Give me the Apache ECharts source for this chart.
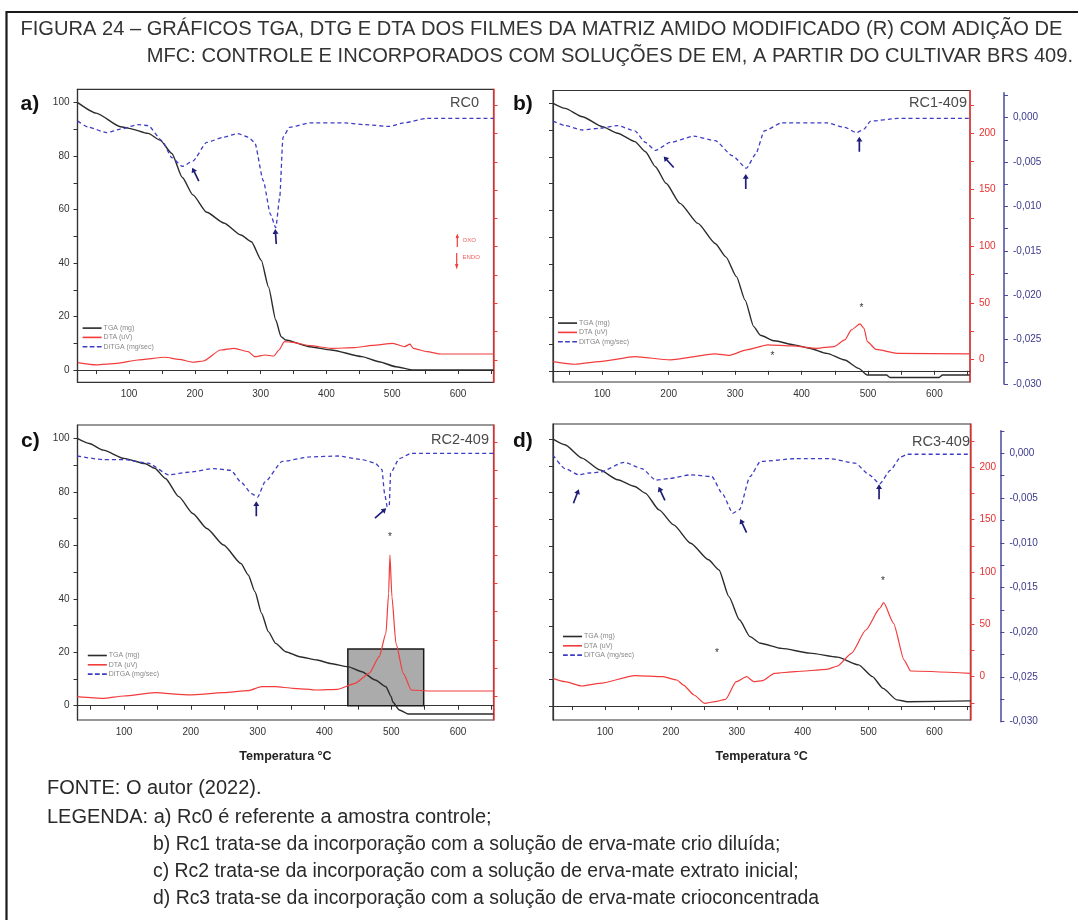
<!DOCTYPE html>
<html><head><meta charset="utf-8">
<script src="https://cdn.jsdelivr.net/npm/echarts/dist/echarts.min.js"></script>
<style>html,body{margin:0;padding:0;background:#fff}#c{width:1078px;height:920px}</style>
</head><body><div id="c"></div>
<script>
// ---------- data ----------
const seriesNames = ['TGA (mg)', 'DTA (uV)', 'DiTGA (mg/sec)'];
const tempLabels = [100, 200, 300, 400, 500, 600];
const tempTicks = [50, 100, 150, 200, 250, 300, 350, 400, 450, 500, 550, 600, 650];
const tgaLabels = [0, 20, 40, 60, 80, 100];
const tgaTicks = [0, 10, 20, 30, 40, 50, 60, 70, 80, 90, 100];
const dtaLabels = [0, 50, 100, 150, 200];
const dtaTicks = [-25, 0, 25, 50, 75, 100, 125, 150, 175, 200, 225];
const dtgLabels = [-0.030, -0.025, -0.020, -0.015, -0.010, -0.005, 0.000];
const dtgTicks = [-0.030, -0.0275, -0.025, -0.0225, -0.020, -0.0175, -0.015, -0.0125, -0.010, -0.0075, -0.005, -0.0025, 0.000, 0.0025];

// Panel a) RC0
const tgaA = [[22,100],[50,96.1],[87,91],[100,90.4],[129,88.5],[147,86],[165,81],[181,72],[197,65.5],[218,59],[244,55],[270,50.5],[286,48],[301,41],[312,31],[323,18.7],[331,12.5],[338,11.2],[375,8.7],[407,7.5],[454,5],[480,3.1],[506,1.2],[532,0],[600,0],[654,0]];
const dtaA = [[22,-2.4],[50,-4.4],[82,-3],[113,0],[155,2.4],[176,0.6],[197,-2],[213,-0.9],[239,8.8],[260,10.3],[281,7.4],[291,2.9],[307,4.4],[320,3.5],[328,8.8],[336,16.2],[349,15.6],[375,12.6],[407,10.3],[443,10.9],[470,12.9],[501,14.7],[519,11.8],[527,14],[532,10.3],[553,7.4],[574,5.3],[654,5.3]];
const dtgA = [[22,-0.0004],[39,-0.0011],[66,-0.0017],[87,-0.0013],[113,-0.0008],[129,-0.0009],[150,-0.0026],[165,-0.0045],[181,-0.0055],[197,-0.0049],[218,-0.0028],[244,-0.0022],[265,-0.0018],[281,-0.0022],[291,-0.0028],[304,-0.0071],[315,-0.0109],[323,-0.0124],[329,-0.009],[334,-0.0022],[344,-0.0011],[375,-0.0006],[428,-0.0006],[459,-0.0008],[496,-0.001],[517,-0.0006],[553,-0.0001],[654,-0.0001]];
const arrowsA = [[201,-0.0064,26],[323,-0.0134,4]];
const starsA = [];

// Panel b) RC1-409
const tgaB = [[26,100],[44,98.1],[70,95],[100,91.3],[123,88.8],[149,85.7],[165,81.9],[180,76.3],[196,70.1],[217,62.6],[244,55.1],[270,47.6],[286,42.6],[302,35.2],[315,26.4],[328,16.5],[338,13.3],[359,11.2],[391,9.6],[412,8.4],[438,6.5],[465,4],[486,0.9],[499,-1.6],[528,-1.6],[533,-2.5],[607,-2.5],[612,-1.6],[653,-1.6]];
const dtaB = [[26,-2],[59,-4.4],[96,-2],[149,2.4],[202,-0.6],[270,4.7],[291,3.5],[317,8.3],[349,12.7],[386,11.8],[423,9.7],[449,11.2],[465,17.1],[475,26],[488,31.3],[494,27.4],[499,15.6],[512,8.8],[544,5.3],[653,4.7]];
const dtgB = [[26,-0.0004],[44,-0.0009],[70,-0.0014],[96,-0.0012],[123,-0.0009],[149,-0.0015],[165,-0.0028],[180,-0.0037],[202,-0.0028],[238,-0.0021],[270,-0.0026],[296,-0.0043],[317,-0.0057],[331,-0.0041],[344,-0.0015],[370,-0.0006],[438,-0.0006],[465,-0.0011],[483,-0.0017],[494,-0.0013],[504,-0.0004],[544,-0.0001],[653,-0.0001]];
const arrowsB = [[200,-0.005,42],[316,-0.0072,0],[487,-0.003,0]];
const starsB = [[490,45],[356,3]];

// Panel c) RC2-409
const tgaC = [[30,100],[48,98.1],[69,95.6],[100,92.5],[131,90.6],[146,88.8],[162,85],[182,78.2],[203,71.9],[224,66.3],[249,60.1],[275,53.2],[286,48.9],[296,42.6],[306,34.5],[316,27.7],[327,23.3],[342,20.2],[363,18.3],[389,17.1],[409,15.8],[435,14.6],[456,12.7],[476,9.6],[492,7.1],[500,3.4],[502,1.5],[512,-1.6],[525,-3.1],[653,-3.1]];
const dtaC = [[30,0],[69,-1.5],[100,0.6],[146,3.5],[198,1.5],[249,3.5],[286,5.3],[306,8.8],[327,8.8],[353,7.4],[389,5.9],[420,6.5],[446,11.8],[467,20.6],[482,35.3],[492,55.9],[496,91],[498,125],[501,88],[507,47],[518,20.6],[530,5.9],[559,5],[653,5]];
const dtgC = [[30,-0.0003],[69,-0.0007],[100,-0.0007],[136,-0.0011],[167,-0.0024],[198,-0.0021],[234,-0.0017],[260,-0.0019],[275,-0.0032],[291,-0.0045],[300,-0.0049],[311,-0.0032],[337,-0.0009],[378,-0.0004],[420,-0.0003],[456,-0.0007],[476,-0.0011],[486,-0.0018],[490,-0.0045],[494,-0.006],[497,-0.0058],[499,-0.0022],[512,-0.0006],[530,0],[653,0]];
const arrowsC = [[298,-0.0062,0],[484,-0.0067,-49]];
const starsC = [[498,141]];
const boxC = [[435, 548.5, 0, 21.2]];

// Panel d) RC3-409
const tgaD = [[21,100],[39,97.9],[65,92.9],[92,88.5],[119,84.8],[145,82.3],[161,79.8],[182,73.5],[204,67.9],[230,61],[257,54.8],[273,51],[288,41],[304,32.3],[320,26],[336,23.5],[368,21.6],[411,19.8],[453,18.3],[485,15.4],[506,11],[522,6.6],[543,2.3],[559,1.6],[655,1.9]];
const dtaD = [[21,-1.6],[39,-4.8],[65,-8.9],[92,-6.4],[145,1],[188,0],[209,-3.2],[219,-8],[235,-17.5],[251,-25.5],[267,-23.9],[283,-21.7],[299,-4.8],[315,0],[326,-4.8],[339,-3.8],[357,3.2],[389,4.8],[437,7],[453,10.2],[474,22.3],[496,44.6],[517,65.3],[523,70.7],[538,51],[554,15.9],[564,5.4],[655,3.2]];
const dtgD = [[21,-0.0002],[39,-0.0017],[60,-0.0024],[76,-0.0022],[92,-0.0021],[129,-0.001],[156,-0.0017],[177,-0.003],[198,-0.0028],[230,-0.0024],[262,-0.0026],[278,-0.0045],[294,-0.0067],[304,-0.0063],[320,-0.0026],[336,-0.0009],[389,-0.0006],[442,-0.0006],[480,-0.0011],[501,-0.0024],[517,-0.0034],[533,-0.0019],[549,-0.0004],[559,-0.0001],[655,-0.0001]];
const arrowsD = [[56,-0.0048,-21],[186,-0.0045,25],[310,-0.0081,25],[516,-0.0043,0]];
const starsD = [[270,22],[522,91]];

const panelTitles = ['RC0', 'RC1-409', 'RC2-409', 'RC3-409'];
const panelLetters = ['a)', 'b)', 'c)', 'd)'];
const titleLines = ['FIGURA 24 – GRÁFICOS TGA, DTG E DTA DOS FILMES DA MATRIZ AMIDO MODIFICADO (R) COM ADIÇÃO DE',
  'MFC: CONTROLE E INCORPORADOS COM SOLUÇÕES DE EM, A PARTIR DO CULTIVAR BRS 409.'];
const footLines = ['FONTE: O autor (2022).',
  'LEGENDA: a) Rc0 é referente a amostra controle;',
  'b) Rc1 trata-se da incorporação com a solução de erva-mate crio diluída;',
  'c) Rc2 trata-se da incorporação com a solução de erva-mate extrato inicial;',
  'd) Rc3 trata-se da incorporação com a solução de erva-mate crioconcentrada'];
const xName = 'Temperatura °C';

// ---------- layout ----------
const FONT = "'Liberation Sans', Arial, Helvetica, sans-serif";
const C_TGA = '#2b2b2b', C_DTA = '#f23c3c', C_DTG = '#3d3dc4', C_BLUEAX = '#4a4a9c', C_ARROW = '#1e1e78';
const panels = [
  {grid:{left:77.5, top:89.3, width:416, height:293}, blue:{top:92.7, height:291.3, max:0.0028, show:false, offset:34},
   x:[21.6,654], tgaR:[-4.6,105], dtaR:[-19.7,239], tgaLab:true, dtaLab:false, xname:false,
   tga:tgaA, dta:dtaA, dtg:dtgA, arrows:arrowsA, stars:starsA, legend:{left:82.6, top:324.6},
   title:{x:479, y:103}, letter:{x:20.5, y:104}},
  {grid:{left:553, top:90.5, width:417, height:291.5}, blue:{top:92.7, height:291.3, max:0.0028, show:true, offset:34},
   x:[25.8,653.6], tgaR:[-4.2,104.8], dtaR:[-20.1,237.8], tgaLab:false, dtaLab:true, xname:false,
   tga:tgaB, dta:dtaB, dtg:dtgB, arrows:arrowsB, stars:starsB, legend:{left:558, top:319.6},
   title:{x:967, y:103}, letter:{x:513, y:104}},
  {grid:{left:77.5, top:425, width:416, height:295}, blue:{top:430.7, height:291, max:0.00253, show:false, offset:30},
   x:[30.4,653], tgaR:[-5.35,105], dtaR:[-20.6,239.8], tgaLab:true, dtaLab:false, xname:true,
   tga:tgaC, dta:dtaC, dtg:dtgC, arrows:arrowsC, stars:starsC, box:boxC, legend:{left:87.8, top:652},
   title:{x:489, y:440}, letter:{x:21, y:441}},
  {grid:{left:553, top:424, width:417.4, height:296}, blue:{top:430.7, height:291, max:0.00253, show:true, offset:30},
   x:[20.9,654.7], tgaR:[-5.25,105.7], dtaR:[-41.4,241.4], tgaLab:false, dtaLab:true, xname:true,
   tga:tgaD, dta:dtaD, dtg:dtgD, arrows:arrowsD, stars:starsD, legend:{left:563, top:633},
   title:{x:970, y:442}, letter:{x:513, y:441}}
];

const inRange = (arr, r) => arr.filter(v => v >= r[0] - 1e-9 && v <= r[1] + 1e-9);
const arrowPath = 'path://M5,0L10,7L6.4,7L6.4,22L3.6,22L3.6,7L0,7Z';
const solidIcon = 'path://M0,0H20V1.7H0Z';
const dashIcon = 'path://M0,0H5V1.7H0Z M7.5,0H12.5V1.7H7.5Z M15,0H20V1.7H15Z';
const legendIcons = [solidIcon, solidIcon, dashIcon];

const grids = [], xAxes = [], yAxes = [], series = [], legends = [], graphics = [];

panels.forEach((p, i) => {
  grids.push({left:p.grid.left, top:p.grid.top, width:p.grid.width, height:p.grid.height,
    show:true, borderColor:'#333', borderWidth:1.2, backgroundColor:'transparent', containLabel:false});
  grids.push({left:p.grid.left, top:p.blue.top, width:p.grid.width, height:p.blue.height, show:false});

  xAxes.push({type:'value', gridIndex:2*i, min:p.x[0], max:p.x[1],
    axisLine:{show:true, lineStyle:{color:'#333', width:1.2}},
    axisTick:{show:true, length:4, lineStyle:{color:'#333'}, customValues: inRange(tempTicks, p.x)},
    axisLabel:{show:true, fontSize:10, color:'#333', fontFamily:FONT, margin:7, customValues: inRange(tempLabels, p.x)},
    splitLine:{show:false},
    name: p.xname ? xName : '', nameLocation:'middle', nameGap:30,
    nameTextStyle:{fontSize:12.5, fontWeight:'bold', color:'#222', fontFamily:FONT}});
  xAxes.push({type:'value', gridIndex:2*i+1, min:p.x[0], max:p.x[1], show:false});

  yAxes.push({type:'value', gridIndex:2*i, position:'left', min:p.tgaR[0], max:p.tgaR[1],
    axisLine:{show:true, lineStyle:{color:'#333', width:1.2}},
    axisTick:{show:true, length:4, lineStyle:{color:'#333'}, customValues: inRange(tgaTicks, p.tgaR)},
    axisLabel:{show:p.tgaLab, fontSize:10, color:'#333', fontFamily:FONT, margin:8, customValues: inRange(tgaLabels, p.tgaR)},
    splitLine:{show:false}});
  yAxes.push({type:'value', gridIndex:2*i, position:'right', min:p.dtaR[0], max:p.dtaR[1],
    axisLine:{show:true, lineStyle:{color:C_DTA, width:1.5}},
    axisTick:{show:true, length:4, lineStyle:{color:C_DTA}, customValues: inRange(dtaTicks, p.dtaR)},
    axisLabel:{show:p.dtaLab, fontSize:10, color:'#e83030', fontFamily:FONT, margin:9, customValues: inRange(dtaLabels, p.dtaR)},
    splitLine:{show:false}});
  yAxes.push({type:'value', gridIndex:2*i+1, position:'right', offset:p.blue.offset, min:-0.03, max:p.blue.max,
    show:p.blue.show,
    axisLine:{show:true, lineStyle:{color:C_BLUEAX, width:1.5}},
    axisTick:{show:true, length:4, lineStyle:{color:C_BLUEAX}, customValues: inRange(dtgTicks, [-0.03, p.blue.max])},
    axisLabel:{show:true, fontSize:10, color:'#3a3a8c', fontFamily:FONT, margin:9,
      customValues: dtgLabels, formatter: v => v.toFixed(3).replace('.', ',')},
    splitLine:{show:false}});

  if (p.box) {
    series.push({type:'custom', xAxisIndex:2*i, yAxisIndex:3*i, z:1, data:p.box,
      encode:{x:[0,1], y:[2,3]},
      renderItem:(params, api) => {
        const a = api.coord([api.value(0), api.value(3)]);
        const b = api.coord([api.value(1), api.value(2)]);
        return {type:'rect', shape:{x:a[0], y:a[1], width:b[0]-a[0], height:b[1]-a[1]},
          style:{fill:'#ababab', stroke:'#1a1a1a', lineWidth:1.5}};
      }});
  }

  series.push({name:seriesNames[0], type:'line', xAxisIndex:2*i, yAxisIndex:3*i, data:p.tga, z:3,
    symbol:'none', smooth:0.2, smoothMonotone:'x', color:C_TGA, lineStyle:{color:C_TGA, width:1.4}});
  series.push({name:seriesNames[1], type:'line', xAxisIndex:2*i, yAxisIndex:3*i+1, data:p.dta, z:3,
    symbol:'none', smooth:0.2, smoothMonotone:'x', color:C_DTA, lineStyle:{color:C_DTA, width:1.2},
    markPoint:{silent:true, symbol:'circle', symbolSize:1, itemStyle:{color:'rgba(0,0,0,0)'},
      label:{show:true, formatter:'*', position:'inside', color:'#333', fontSize:10, fontFamily:FONT},
      data:p.stars.map(s => ({coord:[s[0], s[1]]}))}});
  series.push({name:seriesNames[2], type:'line', xAxisIndex:2*i+1, yAxisIndex:3*i+2, data:p.dtg, z:3,
    symbol:'none', smooth:0.2, smoothMonotone:'x', color:C_DTG, lineStyle:{color:C_DTG, width:1.3, type:[4,3]},
    markPoint:{silent:true, symbol:arrowPath, symbolSize:[6,15], symbolKeepAspect:false,
      itemStyle:{color:C_ARROW}, label:{show:false},
      data:p.arrows.map(a => ({coord:[a[0], a[1]], symbolRotate:a[2]}))}});

  legends.push({data:seriesNames.map((n, k) => ({name:n, icon:legendIcons[k]})),
    left:p.legend.left, top:p.legend.top, orient:'vertical', padding:0,
    itemWidth:19, itemHeight:7, itemGap:2.3, selectedMode:false, symbolKeepAspect:true,
    itemStyle:{borderWidth:0},
    textStyle:{fontSize:7, color:'#888', fontFamily:FONT, padding:[0,0,0,-3]}});

  graphics.push({type:'text', x:p.title.x, y:p.title.y, z:50,
    style:{text:panelTitles[i], fontSize:14.5, fontFamily:FONT, fill:'#4a4a4a', align:'right', verticalAlign:'middle'}});
  graphics.push({type:'text', x:p.letter.x, y:p.letter.y, z:50,
    style:{text:panelLetters[i], fontSize:21, fontWeight:'bold', fontFamily:FONT, fill:'#111', align:'left', verticalAlign:'middle'}});
});

// frame, title, footer
graphics.push({type:'rect', z:40, shape:{x:6.5, y:12, width:1200, height:1000}, style:{fill:'none', stroke:'#1a1a1a', lineWidth:2.2}});
graphics.push({type:'text', x:20.5, y:29.3, z:50, style:{text:titleLines[0], fontSize:20.1, fontFamily:FONT, fill:'#333', align:'left', verticalAlign:'middle'}});
graphics.push({type:'text', x:146.7, y:56.7, z:50, style:{text:titleLines[1], fontSize:20.1, fontFamily:FONT, fill:'#333', align:'left', verticalAlign:'middle'}});
const footPos = [[47,788.5],[47,817],[153,844.5],[153,872],[153,899]];
const footSize = [20, 20, 19.4, 19.4, 19.4];
footLines.forEach((t, k) => graphics.push({type:'text', x:footPos[k][0], y:footPos[k][1], z:50,
  style:{text:t, fontSize:footSize[k], fontFamily:FONT, fill:'#2a2a2a', align:'left', verticalAlign:'middle'}}));

// OXO / ENDO marker in panel a
graphics.push({type:'line', z:50, shape:{x1:457.3, y1:247, x2:457.3, y2:236}, style:{stroke:C_DTA, lineWidth:1.2}});
graphics.push({type:'polygon', z:50, shape:{points:[[455.6,238],[457.3,233.5],[459,238]]}, style:{fill:C_DTA}});
graphics.push({type:'line', z:50, shape:{x1:456.7, y1:253, x2:456.7, y2:266}, style:{stroke:C_DTA, lineWidth:1.2}});
graphics.push({type:'polygon', z:50, shape:{points:[[455,264],[456.7,269.5],[458.4,264]]}, style:{fill:C_DTA}});
graphics.push({type:'text', x:462.5, y:240.5, z:50, style:{text:'OXO', fontSize:6, fontFamily:FONT, fill:'#f06060', align:'left', verticalAlign:'middle'}});
graphics.push({type:'text', x:462.5, y:257, z:50, style:{text:'ENDO', fontSize:6, fontFamily:FONT, fill:'#f06060', align:'left', verticalAlign:'middle'}});

const chart = echarts.init(document.getElementById('c'), null, {renderer:'canvas'});
chart.setOption({
  animation:false,
  backgroundColor:'#ffffff',
  grid:grids, xAxis:xAxes, yAxis:yAxes, series:series, legend:legends, graphic:graphics
});
</script></body></html>
